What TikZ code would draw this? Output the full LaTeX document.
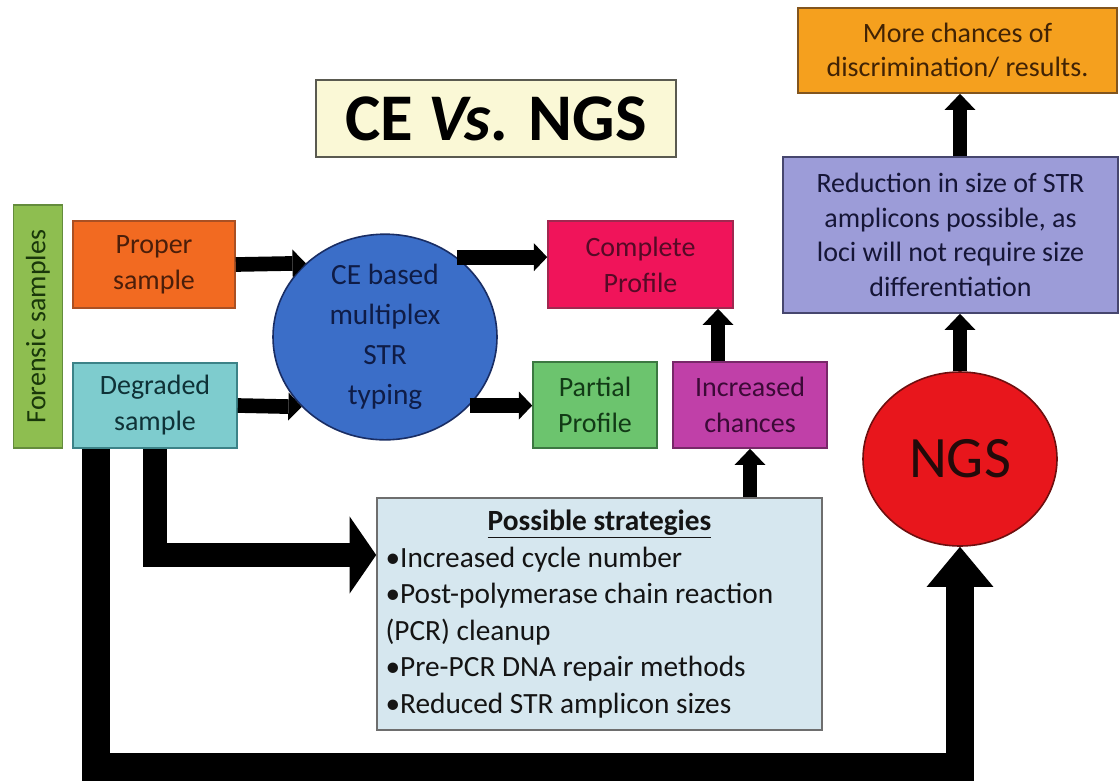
\documentclass[tikz,border=0pt]{standalone}
\usepackage{fontspec}
\setmainfont{Carlito}
\usetikzlibrary{arrows.meta,shapes.geometric,calc}

\begin{document}
\begin{tikzpicture}[x=0.75pt,y=0.75pt,yscale=-1,xscale=1,
  box/.style={draw, line width=1.2pt, align=center, inner sep=0pt, font=\fontsize{21}{27}\selectfont},
  arr/.style={line width=11pt, -{Triangle[length=10pt,width=21pt,line width=0pt]}},
  uparr/.style={line width=10pt, -{Triangle[length=12pt,width=23pt,line width=0pt]}},
  bigarr/.style={line width=18.5pt, -{Triangle[length=20pt,width=58pt,line width=0pt]}},
  ngsarr/.style={line width=21pt, -{Triangle[length=30pt,width=50pt,line width=0pt]}}]
\useasboundingbox (0,0) rectangle (1120,783);

% Title
\node [box, fill={rgb, 255:red, 250; green, 248; blue, 214 }, draw={rgb, 255:red, 90; green, 90; blue, 80 }, minimum width=270pt, minimum height=57.75pt, font=\fontsize{50}{60}\selectfont\bfseries] (title) at (496,118.5) {CE \textit{Vs.} NGS};

%Shape: Rectangle - forensic samples
\node [box, rotate=90, fill={rgb, 255:red, 142; green, 190; blue, 80 }, draw={rgb, 255:red, 100; green, 140; blue, 60 }, text={rgb, 255:red, 25; green, 55; blue, 10 }, minimum width=182.25pt, minimum height=36.75pt] (forensic) at (38,326.5) {Forensic samples};
%Shape: Rectangle
\node [box, fill={rgb, 255:red, 242; green, 106; blue, 33 }, draw={rgb, 255:red, 170; green, 80; blue, 35 }, text={rgb, 255:red, 75; green, 30; blue, 10 }, minimum width=121.5pt, minimum height=65.25pt] (proper) at (154,264.5) {Proper\\sample};
%Shape: Rectangle
\node [box, fill={rgb, 255:red, 126; green, 204; blue, 206 }, draw={rgb, 255:red, 60; green, 130; blue, 135 }, text={rgb, 255:red, 15; green, 50; blue, 55 }, minimum width=123pt, minimum height=63.75pt] (degraded) at (155,405.5) {Degraded\\sample};

%Shape: Ellipse
\node [box, ellipse, fill={rgb, 255:red, 59; green, 110; blue, 200 }, draw={rgb, 255:red, 25; green, 45; blue, 100 }, text={rgb, 255:red, 15; green, 28; blue, 70 }, minimum width=168pt, minimum height=151.5pt, font=\fontsize{22}{30}\selectfont] (ce) at (385,337) {CE based\\multiplex\\STR\\typing};

%Shape: Rectangle
\node [box, fill={rgb, 255:red, 240; green, 20; blue, 90 }, draw={rgb, 255:red, 160; green, 40; blue, 80 }, text={rgb, 255:red, 85; green, 10; blue, 38 }, minimum width=138.75pt, minimum height=65.25pt] (complete) at (640.5,264.5) {Complete\\Profile};
%Shape: Rectangle
\node [box, fill={rgb, 255:red, 108; green, 196; blue, 110 }, draw={rgb, 255:red, 60; green, 120; blue, 65 }, text={rgb, 255:red, 18; green, 58; blue, 22 }, minimum width=93pt, minimum height=64.5pt] (partial) at (595,405) {Partial\\Profile};
%Shape: Rectangle
\node [box, fill={rgb, 255:red, 192; green, 64; blue, 168 }, draw={rgb, 255:red, 120; green, 40; blue, 105 }, text={rgb, 255:red, 60; green, 10; blue, 55 }, minimum width=115.5pt, minimum height=64.5pt] (increased) at (750,405) {Increased\\chances};

%Shape: Rectangle - strategies
\node [box, align=flush left, fill={rgb, 255:red, 214; green, 231; blue, 239 }, draw={rgb, 255:red, 110; green, 110; blue, 110 }, text={rgb, 255:red, 20; green, 20; blue, 20 }, minimum width=333.75pt, minimum height=174pt, text width=321pt, font=\fontsize{22}{27.4}\selectfont] (strategies) at (599.5,614) {\centering\textbf{\underline{Possible strategies}}\par\raggedright
•Increased cycle number\par
•Post-polymerase chain reaction\par
(PCR) cleanup\par
•Pre-PCR DNA repair methods\par
•Reduced STR amplicon sizes};

%Shape: Ellipse
\node [box, ellipse, fill={rgb, 255:red, 232; green, 22; blue, 28 }, draw={rgb, 255:red, 110; green, 15; blue, 15 }, text={rgb, 255:red, 35; green, 10; blue, 10 }, minimum width=145.5pt, minimum height=130.5pt, font=\fontsize{44}{50}\selectfont] (ngs) at (960,459) {NGS};
%Shape: Rectangle
\node [box, fill={rgb, 255:red, 156; green, 156; blue, 216 }, draw={rgb, 255:red, 70; green, 70; blue, 110 }, text={rgb, 255:red, 22; green, 22; blue, 55 }, minimum width=251.25pt, minimum height=117pt, font=\fontsize{21}{26}\selectfont] (reduction) at (950.5,235) {Reduction in size of STR\\amplicons possible, as\\loci will not require size\\differentiation};
%Shape: Rectangle
\node [box, fill={rgb, 255:red, 245; green, 160; blue, 30 }, draw={rgb, 255:red, 130; green, 85; blue, 30 }, text={rgb, 255:red, 65; green, 35; blue, 5 }, minimum width=239.25pt, minimum height=63.75pt, font=\fontsize{21}{26}\selectfont] (more) at (957.5,50.5) {More chances of\\discrimination/ results.};

%Straight Lines
\draw [arr] (proper.east) -- (ce.137) ;
\draw [arr] (degraded.east) -- (ce.220) ;
\draw [arr] (ce.48) -- (ce.48 -| complete.west) ;
\draw [arr] (ce.-39) -- (ce.-39 -| partial.west) ;
\draw [uparr] ([xshift=-24pt]increased.north) -- ([xshift=-24pt]increased.north |- complete.south) ;
\draw [uparr] (increased.south |- strategies.north) -- (increased.south) ;
\draw [uparr] (ngs.north) -- (ngs.north |- reduction.south) ;
\draw [uparr] (reduction.north -| ngs.north) -- (more.south -| ngs.north) ;

%Elbow arrows
\draw [bigarr] (degraded.south) |- ($(strategies.west)+(0,-59)$) ;
\draw [ngsarr] ($(degraded.south)+(-59,0)$) -- ($(degraded.south)+(-59,318)$) -| (ngs.south) ;

\end{tikzpicture}
\end{document}
